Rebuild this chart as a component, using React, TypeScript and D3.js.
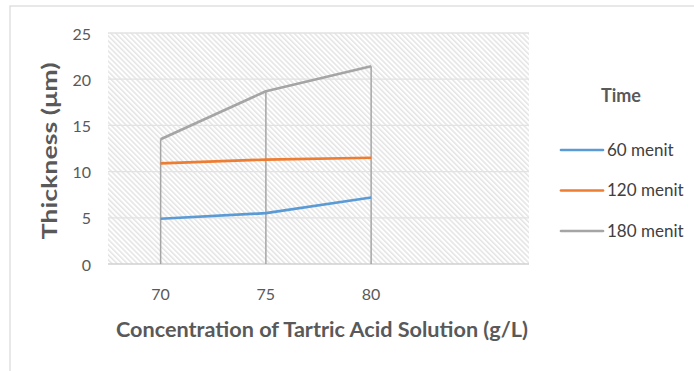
import React from "react";
import * as d3 from "d3";

const categories = ["70", "75", "80", ""];
const seriesNames = ["60 menit", "120 menit", "180 menit"];
const values60 = [4.9, 5.5, 7.2];
const values120 = [10.9, 11.3, 11.5];
const values180 = [13.5, 18.7, 21.4];
const yTicks = [0, 5, 10, 15, 20, 25];
const colors = ["#5b9bd5", "#ed7d31", "#a5a5a5"];

const W = 694;
const H = 371;
const plot = { left: 108, right: 529, top: 33, bottom: 264 };
const font = "Lato, 'Open Sans', sans-serif";

export default function App() {
  const x = d3
    .scaleBand<string>()
    .domain(categories)
    .range([plot.left, plot.right])
    .paddingInner(0)
    .paddingOuter(0);
  const cx = (c: string) => (x(c) as number) + x.bandwidth() / 2;
  const y = d3.scaleLinear().domain([0, 25]).range([plot.bottom, plot.top]);
  const all = [values60, values120, values180];
  const line = d3
    .line<number>()
    .x((_, i) => cx(categories[i]))
    .y((d) => y(d));
  const legendY = [150, 190.5, 231];

  return (
    <svg
      width={W}
      height={H}
      style={{ position: "absolute", left: 0, top: 0, background: "#fff" }}
    >
      <defs>
        <pattern
          id="hatch"
          width={3.6}
          height={3.6}
          patternUnits="userSpaceOnUse"
          patternTransform="rotate(-45)"
        >
          <line x1={0.8} y1={0} x2={0.8} y2={3.6} stroke="#dadada" strokeWidth={1.1} />
        </pattern>
      </defs>
      <rect x={0} y={0} width={W} height={H} fill="#fff" />
      <rect
        x={10}
        y={6}
        width={W + 20}
        height={H + 20}
        fill="none"
        stroke="#d9d9d9"
        strokeWidth={1.2}
      />
      <rect
        x={plot.left}
        y={plot.top}
        width={plot.right - plot.left}
        height={plot.bottom - plot.top}
        fill="url(#hatch)"
      />
      {yTicks.map((t) => (
        <g key={t}>
          <line
            x1={plot.left}
            x2={plot.right}
            y1={y(t)}
            y2={y(t)}
            stroke={t === 0 ? "#d0d0d0" : "#e2e2e2"}
            strokeWidth={t === 0 ? 1.5 : 1.3}
          />
          <text
            x={91}
            y={y(t) + 1}
            dy="0.35em"
            textAnchor="end"
            fontFamily={font}
            fontSize={16}
            fill="#595959"
          >
            {t}
          </text>
        </g>
      ))}
      {values180.map((v, i) => (
        <line
          key={i}
          x1={cx(categories[i])}
          x2={cx(categories[i])}
          y1={y(v)}
          y2={y(0)}
          stroke="#a5a5a5"
          strokeWidth={1.5}
        />
      ))}
      {all.map((vals, si) => (
        <path
          key={si}
          d={line(vals) as string}
          fill="none"
          stroke={colors[si]}
          strokeWidth={2.7}
          strokeLinejoin="round"
        />
      ))}
      {categories
        .filter((c) => c !== "")
        .map((c) => (
          <text
            key={c}
            x={cx(c)}
            y={294}
            dy="0.35em"
            textAnchor="middle"
            fontFamily={font}
            fontSize={16}
            fill="#595959"
          >
            {c}
          </text>
        ))}
      <text
        x={322}
        y={330}
        dy="0.35em"
        textAnchor="middle"
        fontFamily={font}
        fontSize={20}
        fontWeight="bold"
        fill="#595959"
        textLength={412}
        lengthAdjust="spacingAndGlyphs"
      >
        Concentration of Tartric Acid Solution (g/L)
      </text>
      <text
        transform="translate(50,151) rotate(-90)"
        textAnchor="middle"
        dy="0.35em"
        fontFamily={font}
        fontSize={20}
        fontWeight="bold"
        fill="#595959"
        textLength={177}
        lengthAdjust="spacingAndGlyphs"
      >
        Thickness (μm)
      </text>
      <text
        x={621}
        y={96}
        dy="0.35em"
        textAnchor="middle"
        fontFamily={font}
        fontSize={18}
        fontWeight="bold"
        fill="#595959"
      >
        Time
      </text>
      {seriesNames.map((n, i) => (
        <g key={n}>
          <line
            x1={561}
            x2={603}
            y1={legendY[i]}
            y2={legendY[i]}
            stroke={colors[i]}
            strokeWidth={2.7}
            strokeLinecap="round"
          />
          <text
            x={607}
            y={legendY[i]}
            dy="0.35em"
            fontFamily={font}
            fontSize={17}
            fill="#404040"
          >
            {n}
          </text>
        </g>
      ))}
    </svg>
  );
}
